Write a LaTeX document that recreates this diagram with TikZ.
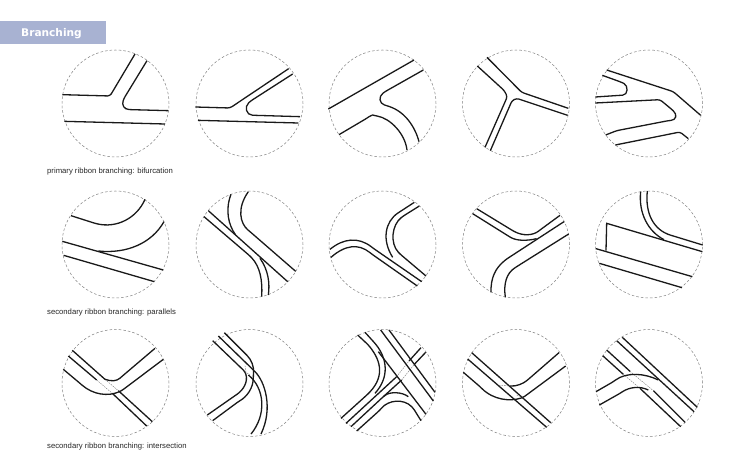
\documentclass[tikz,border=0pt]{standalone}
\usepackage{fontspec}
\setmainfont{Liberation Sans}
\newfontfamily\titlefont{DejaVu Sans}
\definecolor{titleblue}{RGB}{168,178,210}
\tikzset{
  ribbon/.style={line width=1.3pt,black!90,rounded corners=2.5pt},
  hidden/.style={line width=0.35pt,black!60,dash pattern=on 1.5pt off 1pt},
  lens/.style={line width=0.5pt,black!50,dash pattern=on 2.6pt off 2pt},
  caption/.style={anchor=base west,inner sep=0pt,font=\fontsize{7.7}{9}\selectfont,black!85}
}
\begin{document}
\begin{tikzpicture}[x=1pt,y=-1pt]
\useasboundingbox (0,0) rectangle (730,473);
\fill[titleblue] (0,21) rectangle (106,44);
\node[inner sep=0pt,text=white,font=\titlefont\bfseries\fontsize{10.6}{12}\selectfont] (title) at (51.5,34) {Branching};
\foreach \cx in {115.5,249.5,382.5,516,649}
    \foreach \cy in {103.5,244.5,383}
        \draw[lens] (\cx,\cy) circle (53.5pt);
\node[caption] (capa) at (47,173.5) {primary ribbon branching: bifurcation};
\node[caption] (capb) at (47,314.5) {secondary ribbon branching: parallels};
\node[caption] (capc) at (47,448.5) {secondary ribbon branching: intersection};
% first row
\begin{scope}[shift={(0,10)},scale=1/3]
    \draw[ribbon] (187,254)--(330,258)--(405,132);
    \draw[ribbon] (441,152)--(372,265) .. controls (365,285) and (372,298) .. (395,299)--(505,302);
    \draw[ribbon] (193,334)--(495,342);
    \draw[ribbon] (586,291)--(690,294)--(866,176);
    \draw[ribbon] (878,192)--(752,273) .. controls (733,290) and (738,315) .. (765,316)--(900,320);
    \draw[ribbon] (594,331)--(895,339);
\end{scope}
\begin{scope}[shift={(310,40)},scale=1/3]
    \draw[ribbon] (55,207)--(312,60);
    \draw[ribbon] (340,90)--(225,155) .. controls (205,170) and (208,190) .. (230,197) .. controls (285,215) and (315,260) .. (327,305);
    \draw[ribbon] (87,284)--(170,235) .. controls (180,228) and (188,225) .. (195,227) .. controls (240,235) and (285,280) .. (291,330);
    \draw[ribbon] (502,78)--(583,152)--(592,170)--(525,322);
    \draw[ribbon] (531,52)--(635,157)--(775,205);
    \draw[ribbon] (773,226)--(620,175)--(606,182)--(541,332);
    \draw[ribbon] (890,90)--(1090,155)--(1172,226);
    \draw[ribbon] (877,106)--(935,127) .. controls (955,137) and (955,165) .. (930,166)--(856,171);
    \draw[ribbon] (856,189)--(1050,179)--(1085,208) .. controls (1103,225) and (1098,240) .. (1075,242)--(920,272)--(887,285);
    \draw[ribbon] (916,315)--(1110,276)--(1135,296);
\end{scope}
% second row
\begin{scope}[shift={(40,180)},scale=1/3]
    \draw[ribbon] (93,107)--(165,130) .. controls (230,145) and (290,115) .. (315,58);
    \draw[ribbon] (67,184)--(370,270);
    \draw[ribbon] (71,226)--(343,305);
    \draw[ribbon] (175,213) .. controls (260,222) and (335,190) .. (372,125);
    \draw[ribbon] (573,43) .. controls (555,90) and (565,135) .. (587,165);
    \draw[ribbon] (625,35) .. controls (590,85) and (600,130) .. (630,155)--(767,274);
    \draw[ribbon] (505,92)--(743,305);
    \draw[ribbon] (492,110)--(630,228) .. controls (660,260) and (668,300) .. (665,350);
    \draw[ribbon] (660,235) .. controls (685,270) and (690,310) .. (685,345);
\end{scope}
\begin{scope}[shift={(320,180)},scale=1/3]
    \draw[ribbon] (30,208) .. controls (70,175) and (115,170) .. (160,205)--(305,305);
    \draw[ribbon] (33,232) .. controls (75,195) and (115,190) .. (155,222)--(292,318);
    \draw[ribbon] (283,67)--(240,95) .. controls (195,125) and (185,180) .. (218,232);
    \draw[ribbon] (298,78)--(250,108) .. controls (215,135) and (210,190) .. (240,222)--(318,288);
    \draw[ribbon] (470,86)--(575,150) .. controls (610,170) and (640,165) .. (660,150)--(720,106);
    \draw[ribbon] (458,101)--(565,168) .. controls (590,183) and (620,183) .. (650,176);
    \draw[ribbon] (732,125)--(560,237) .. controls (525,265) and (512,295) .. (513,337);
    \draw[ribbon] (746,162)--(590,260) .. controls (560,280) and (550,310) .. (556,352);
    \draw[ribbon,sharp corners] (858,212)--(860,130)--(1147,215);
    \draw[ribbon] (962,35) .. controls (955,100) and (985,155) .. (1032,179);
    \draw[ribbon] (982,33) .. controls (975,100) and (1000,150) .. (1060,168)--(1148,195);
    \draw[ribbon] (828,206)--(1117,290);
    \draw[ribbon] (838,250)--(1086,323);
\end{scope}
% third row
\begin{scope}[shift={(55,325)},scale=1/3]
    \draw[ribbon] (52,76)--(150,163);
    \draw[hidden] (150,163)--(190,197);
    \draw[ribbon] (190,197)--(292,290);
    \draw[ribbon] (40,93)--(125,165);
    \draw[hidden] (125,165)--(172,205);
    \draw[ribbon] (172,205)--(275,303);
    \draw[ribbon] (150,163) .. controls (170,170) and (185,168) .. (200,155)--(300,70);
    \draw[ribbon] (25,133)--(75,175) .. controls (115,210) and (160,215) .. (200,197)--(325,103);
\end{scope}
\begin{scope}[shift={(190,325)},scale=1/3]
    \draw[ribbon] (68,47)--(165,140) .. controls (175,170) and (160,195) .. (135,212)--(52,270);
    \draw[ribbon] (85,33)--(190,135) .. controls (225,170) and (250,250) .. (213,327);
    \draw[ribbon] (103,23)--(165,85) .. controls (185,105) and (192,125) .. (190,150) .. controls (190,190) and (170,215) .. (145,230)--(68,287);
    \draw[ribbon] (175,150) .. controls (225,190) and (230,270) .. (183,327);
    \draw[hidden] (165,122)--(168,140);
    \draw[hidden] (165,140)--(180,150);
\end{scope}
\begin{scope}[shift={(325,325)},scale=1/3]
    \draw[ribbon] (98,30)--(130,60) .. controls (170,110) and (180,160) .. (120,215)--(48,280);
    \draw[ribbon] (120,22)--(150,55) .. controls (185,100) and (195,155) .. (150,205);
    \draw[ribbon] (63,295)--(215,155);
    \draw[hidden] (215,155)--(252,108);
    \draw[ribbon] (252,108)--(288,68);
    \draw[ribbon] (78,305)--(175,215) .. controls (195,200) and (230,200) .. (250,215);
    \draw[ribbon] (175,215)--(230,165);
    \draw[hidden] (230,165)--(268,118);
    \draw[ribbon] (268,118)--(302,82);
    \draw[ribbon] (95,318)--(165,255) .. controls (190,225) and (235,220) .. (265,250)--(288,287);
    \draw[ribbon] (160,80)--(303,268);
    \draw[ribbon] (167,15)--(325,228);
    \draw[ribbon] (192,15)--(330,202);
\end{scope}
\begin{scope}[shift={(320,320)},scale=1/3]
    \draw[ribbon] (455,98)--(692,308);
    \draw[ribbon] (443,117)--(680,322);
    \draw[ribbon] (570,198) .. controls (590,200) and (610,190) .. (625,178)--(717,98);
    \draw[ribbon] (430,157)--(480,200) .. controls (520,240) and (570,245) .. (610,232)--(737,138);
    \draw[hidden] (530,195)--(570,198);
    \draw[hidden] (590,225)--(610,232);
    \draw[ribbon] (907,52)--(1132,262);
    \draw[ribbon] (890,62)--(1122,275);
    \draw[ribbon] (860,90)--(930,154);
    \draw[hidden] (930,154)--(1000,212);
    \draw[ribbon] (1000,212)--(1095,307);
    \draw[ribbon] (848,107)--(910,163);
    \draw[hidden] (910,163)--(960,205);
    \draw[ribbon] (960,205)--(1082,320);
    \draw[ribbon] (828,215)--(880,185) .. controls (920,155) and (975,160) .. (1015,180);
    \draw[ribbon] (838,255)--(900,220) .. controls (930,200) and (960,198) .. (985,210);
\end{scope}
\end{tikzpicture}
\end{document}
